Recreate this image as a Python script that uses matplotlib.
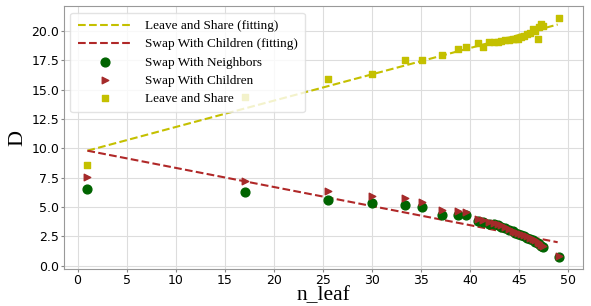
import matplotlib.pyplot as plt

# n_leaf values shared by all three methods
n_leaf = [1, 17.05, 25.5, 30.0, 33.4, 35.1, 37.1, 38.7, 39.6,
          40.8, 41.25, 41.9, 42.4, 42.8, 43.1, 43.5, 43.9, 44.3, 44.6, 44.9,
          45.2, 45.5, 45.8, 46.1, 46.4, 46.6, 46.85, 47.0, 47.2, 47.4, 49.05]

swap_neighbors = [6.5, 6.26, 5.6, 5.38, 5.18, 4.99, 4.36, 4.31, 4.31,
                  3.85, 3.76, 3.57, 3.57, 3.45, 3.34, 3.2, 3.05, 2.92, 2.8, 2.7,
                  2.63, 2.5, 2.4, 2.3, 2.2, 2.05, 1.95, 1.85, 1.7, 1.56, 0.74]

swap_children = [7.6, 7.25, 6.4, 5.97, 5.75, 5.46, 4.75, 4.65, 4.6,
                 4.0, 3.9, 3.7, 3.65, 3.55, 3.45, 3.3, 3.15, 3.0, 2.9, 2.8,
                 2.7, 2.6, 2.5, 2.4, 2.3, 2.15, 2.05, 1.95, 1.8, 1.65, 0.8]

leave_share = [8.6, 14.4, 15.9, 16.3, 17.55, 17.5, 17.98, 18.5, 18.6,
               19.0, 18.63, 19.06, 19.05, 19.1, 19.15, 19.2, 19.25, 19.3, 19.3, 19.35,
               19.45, 19.55, 19.7, 19.85, 20.15, 20.0, 19.35, 20.3, 20.6, 20.4, 21.1]

# fitted lines (end points)
fit_x = [1, 48.9]
leave_share_fit = [9.8, 20.55]
swap_children_fit = [9.8, 2.0]

fig, ax = plt.subplots(figsize=(5.91, 3.06), dpi=100)
fig.subplots_adjust(left=0.108, right=0.986, bottom=0.121, top=0.980)

ax.plot(fit_x, leave_share_fit, '--', color='#c4c000', lw=1.5,
        label='Leave and Share (fitting)', zorder=2)
ax.plot(fit_x, swap_children_fit, '--', color='#b02828', lw=1.5,
        label='Swap With Children (fitting)', zorder=2)

ax.scatter(n_leaf, swap_neighbors, marker='o', s=40, color='#006400',
           label='Swap With Neighbors', zorder=3)
ax.scatter(n_leaf, swap_children, marker='>', s=22, color='#a52a2a',
           label='Swap With Children', zorder=4)
ax.scatter(n_leaf, leave_share, marker='s', s=24, color='#c4c000',
           label='Leave and Share', zorder=3)

ax.set_xticks(range(0, 51, 5))
ax.set_yticks([0, 2.5, 5, 7.5, 10, 12.5, 15, 17.5, 20])
ax.tick_params(labelsize=9, color='#888888', length=2.5, pad=0.8)
ax.grid(True, color='#dddddd', lw=0.8)
ax.set_axisbelow(True)
for s in ax.spines.values():
    s.set_color('#999999')

ax.set_xlabel('n_leaf', family='Liberation Serif', fontsize=15.5, labelpad=0)
ax.set_ylabel('D', family='Liberation Serif', fontsize=16, labelpad=3)

leg = ax.legend(loc='upper left', prop={'family': 'Liberation Serif', 'size': 9.5},
                scatterpoints=1, borderpad=0.55, labelspacing=0.45,
                handlelength=4.1, handletextpad=1.0, edgecolor='#dddddd')

plt.savefig('out.png')
